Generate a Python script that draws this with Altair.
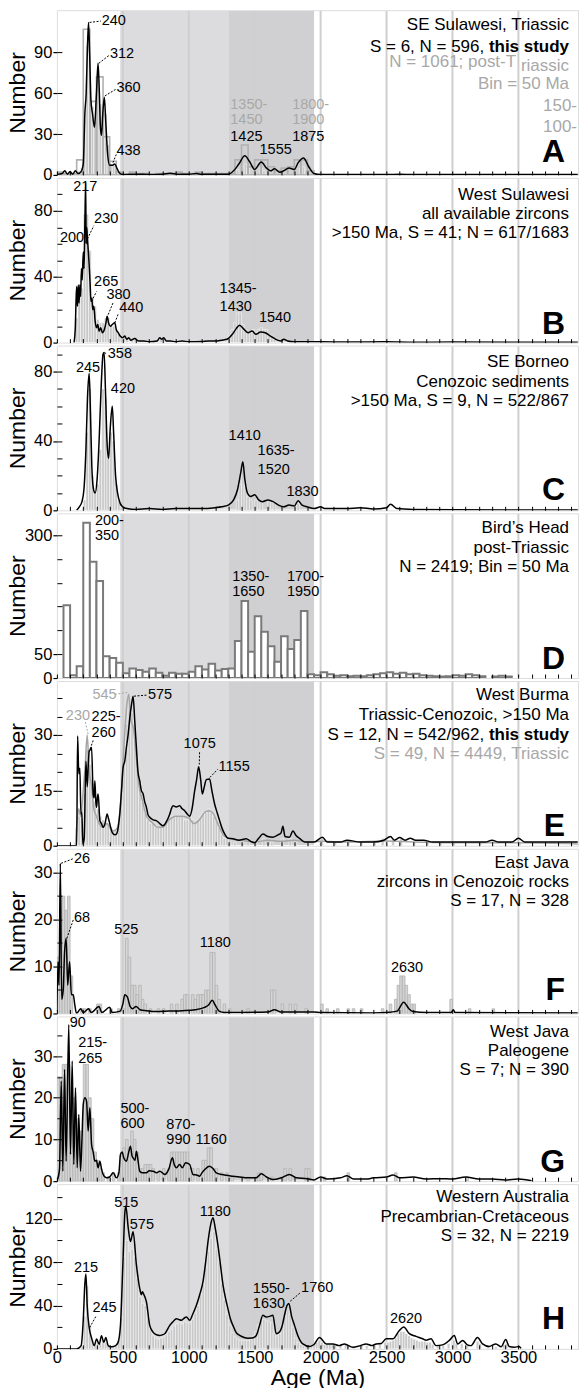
import altair as alt
import pandas as pd

FONT = "Liberation Sans"
W, H = 522, 165
XMAX = 3952

# ---------------- shared guides ----------------
shade_start = [480, 1300]
shade_end = [1300, 1950]
shade_fill = ["#dcdcde", "#d0d0d2"]
grid_ages = [500, 1000, 1500, 2000, 2500, 3000, 3500]
x_label_ages = [0, 500, 1000, 1500, 2000, 2500, 3000, 3500]
x_minor_ages = [0, 100, 200, 300, 400, 500, 600, 700, 800, 900, 1000, 1100, 1200, 1300,
                1400, 1500, 1600, 1700, 1800, 1900, 2000, 2100, 2200, 2300, 2400, 2500,
                2600, 2700, 2800, 2900, 3000, 3100, 3200, 3300, 3400, 3500, 3600, 3700,
                3800, 3900]

# ---------------- panel A : SE Sulawesi ----------------
A_line = [(0, 0.5), (40, 1), (60, 3), (80, 0.5), (100, 2.5), (120, 0.5), (140, 3), (160, 1),
          (180, 2), (200, 8), (212, 45), (222, 60), (232, 95), (240, 112), (248, 90),
          (258, 55), (270, 45), (285, 35), (300, 60), (312, 82), (322, 60), (330, 35),
          (338, 29), (348, 45), (360, 57), (370, 40), (385, 15), (400, 7), (420, 7),
          (438, 8), (455, 5), (470, 2), (490, 0.5), (520, 0.3), (600, 0.5), (700, 0.3),
          (800, 0.5), (860, 1.2), (920, 0.4), (1000, 0.5), (1060, 1), (1100, 0.4),
          (1200, 0.5), (1300, 0.5), (1340, 3), (1380, 8), (1425, 14), (1460, 10),
          (1500, 4), (1550, 9.5), (1590, 5), (1620, 3), (1650, 4.5), (1690, 2), (1720, 3),
          (1760, 5), (1800, 4), (1830, 9), (1870, 12.5), (1910, 6), (1950, 1), (2000, 0.2),
          (2500, 0.2), (2600, 0.5), (2700, 0.2), (3000, 0.3), (3950, 0.2)]
A_hist = [(160, 3), (180, 5), (200, 40), (220, 95), (240, 72), (260, 50), (280, 42),
          (300, 70), (320, 52), (340, 40), (360, 45), (380, 22), (400, 8), (420, 7),
          (440, 5), (460, 2), (1360, 4), (1400, 6), (1420, 8), (1440, 5), (1540, 5),
          (1560, 3), (1840, 5), (1860, 6), (1880, 4)]
A_post = [(0, 2), (50, 1), (100, 1), (150, 11), (200, 107), (250, 54), (300, 72), (350, 28),
          (400, 10), (450, 2), (550, 2), (600, 1), (650, 1), (750, 1), (800, 1), (850, 1),
          (900, 2), (950, 1), (1000, 1), (1050, 2), (1100, 1), (1150, 1), (1200, 1),
          (1250, 1), (1300, 1), (1350, 11), (1400, 22), (1450, 6), (1500, 11), (1550, 11),
          (1600, 6), (1650, 3), (1700, 5), (1750, 6), (1800, 11), (1850, 11), (1900, 3)]
A_labels = [("240", 340, 113, "k"), ("312", 402, 88.7, "k"), ("360", 452, 63.6, "k"),
            ("438", 452, 17.6, "k"), ("1350-", 1315, 51, "g"), ("1450", 1315, 40, "g"),
            ("1425", 1315, 27.8, "k"), ("1555", 1537, 18, "k"), ("1800-", 1784, 51, "g"),
            ("1900", 1784, 40, "g"), ("1875", 1784, 27.8, "k")]
A_leaders = [(248, 112, 333, 113, "k"), (318, 82, 398, 88, "k"), (364, 58, 448, 63, "k"),
             (425, 9, 450, 15, "k")]

# ---------------- panel B : West Sulawesi ----------------
B_line = [(130, 0), (140, 10), (145, 25), (150, 34), (156, 22), (162, 35), (168, 24),
          (174, 35), (180, 28), (186, 45), (192, 38), (200, 55), (206, 45), (212, 72),
          (218, 97), (222, 60), (226, 70), (230, 65), (236, 58), (244, 48), (252, 36),
          (258, 25), (265, 27), (272, 20), (280, 22), (290, 13), (300, 9), (310, 11),
          (320, 7), (332, 9), (345, 6), (360, 8), (372, 12), (381, 16), (392, 12), (406, 10),
          (420, 11), (439, 12), (450, 8), (465, 6), (480, 4), (500, 3), (515, 4), (530, 2),
          (545, 3), (560, 1.5), (590, 2.5), (620, 1), (660, 1), (700, 0.5), (760, 1),
          (780, 3), (795, 2), (810, 3), (830, 1), (860, 1), (900, 0.5), (950, 1),
          (1000, 0.5), (1050, 0.5), (1100, 0.6), (1150, 1), (1200, 1), (1250, 1.5),
          (1290, 2), (1330, 5), (1360, 8.5), (1385, 10.5), (1420, 8), (1450, 6), (1480, 7),
          (1510, 5), (1545, 6.5), (1580, 6), (1620, 4), (1660, 2), (1700, 1), (1720, 2),
          (1750, 1), (1800, 0.5), (1900, 0.5), (2000, 0.5), (2200, 0.3), (2500, 0.5),
          (2700, 0.2), (3000, 0.3), (3950, 0.2)]
B_hist = [(140, 15), (160, 33), (180, 33), (200, 78), (220, 78), (240, 56), (260, 28),
          (280, 22), (300, 14), (320, 12), (340, 12), (360, 15), (380, 15), (400, 11),
          (420, 10), (440, 8), (460, 5), (480, 4), (500, 3), (520, 3), (560, 2), (600, 2),
          (780, 3), (1300, 4), (1320, 8), (1340, 12), (1360, 18), (1380, 18), (1400, 11),
          (1420, 8), (1440, 6), (1460, 6), (1480, 8), (1500, 6), (1520, 8), (1540, 9),
          (1560, 8), (1580, 8), (1600, 5), (1620, 4), (1640, 2), (1700, 2)]
B_labels = [("217", 124, 94.4, "k"), ("200", 23, 63.8, "k"), ("230", 282, 75, "k"),
            ("265", 282, 36.7, "k"), ("380", 376, 28.9, "k"), ("440", 472, 21.2, "k"),
            ("1345-", 1234, 32.3, "k"), ("1430", 1234, 21.7, "k"), ("1540", 1532, 14.8, "k")]
B_leaders = [(232, 63, 280, 71, "k"), (263, 25, 300, 31, "k"), (389, 17, 425, 24, "k"),
             (439, 12, 468, 18, "k")]

# ---------------- panel C : SE Borneo ----------------
C_line = [(150, 0), (170, 2), (190, 5), (205, 12), (220, 35), (232, 65), (245, 79),
          (255, 55), (265, 25), (278, 12), (290, 10), (305, 18), (320, 40), (335, 70),
          (350, 90), (358, 91), (368, 70), (380, 40), (392, 30), (405, 48), (420, 60),
          (430, 45), (445, 20), (460, 10), (480, 4), (500, 2), (530, 1), (600, 0.5),
          (700, 1), (800, 0.5), (900, 1), (1000, 1), (1100, 1), (1200, 1.5), (1250, 2),
          (1300, 3), (1340, 6), (1370, 12), (1395, 22), (1410, 28), (1425, 18), (1445, 10),
          (1470, 8), (1500, 9), (1530, 6), (1560, 5), (1600, 6), (1640, 5), (1680, 3),
          (1720, 2), (1760, 3), (1800, 2.5), (1830, 5.5), (1860, 3), (1900, 2), (1950, 1),
          (2000, 2), (2030, 1), (2200, 1), (2300, 1.5), (2400, 0.8), (2500, 1.5),
          (2530, 3.5), (2580, 1), (2700, 0.5), (3000, 0.3), (3950, 0.2)]
C_hist = [(200, 6), (220, 45), (240, 70), (260, 20), (280, 10), (300, 15), (320, 35),
          (340, 70), (360, 65), (380, 35), (400, 45), (420, 40), (440, 15), (460, 6),
          (480, 2), (1360, 6), (1380, 15), (1400, 24), (1420, 14), (1440, 8), (1460, 6),
          (1500, 6), (1540, 5), (1600, 5), (1640, 5), (1800, 3), (1820, 4)]
C_labels = [("245", 144, 82, "k"), ("358", 386, 90, "k"), ("420", 409, 70, "k"),
            ("1410", 1302, 43, "k"), ("1635-", 1522, 34, "k"), ("1520", 1522, 23.5, "k"),
            ("1830", 1741, 10.5, "k")]
C_leaders = [(360, 91, 382, 90, "k")]

# ---------------- panel D : Bird's Head (50 Ma bins) ----------------
D_hist = [(50, 153), (100, 6), (150, 25), (200, 326), (250, 244), (300, 204), (350, 46),
          (400, 42), (450, 32), (500, 10), (550, 20), (600, 17), (650, 13), (700, 20),
          (750, 11), (800, 5), (850, 11), (900, 9), (950, 9), (1000, 13), (1050, 25),
          (1100, 18), (1150, 30), (1200, 16), (1250, 19), (1300, 20), (1350, 78),
          (1400, 162), (1450, 55), (1500, 130), (1550, 97), (1600, 67), (1650, 34),
          (1700, 88), (1750, 61), (1800, 80), (1850, 141), (1900, 8), (1950, 6), (2000, 12),
          (2050, 8), (2100, 5), (2150, 6), (2200, 4), (2250, 5), (2300, 4), (2350, 6),
          (2400, 8), (2450, 10), (2500, 12), (2550, 9), (2600, 11), (2650, 8), (2700, 9),
          (2750, 6), (2800, 5), (2850, 4), (2900, 3), (2950, 4), (3000, 6), (3050, 5),
          (3100, 8), (3150, 6), (3200, 4), (3300, 3), (3350, 5), (3400, 3)]
D_labels = [("200-", 288, 329, "k"), ("350", 288, 298, "k"), ("1350-", 1330, 212, "k"),
            ("1650", 1330, 180, "k"), ("1700-", 1745, 212, "k"), ("1950", 1745, 180, "k")]

# ---------------- panel E : West Burma ----------------
E_line = [(0, 0), (150, 0), (157, 29.7), (166, 19.5), (174, 21), (182, 8.6), (189, 9),
          (197, 0.5), (207, 2), (220, 22.9), (230, 16), (238, 22), (245, 25.6), (253, 26),
          (263, 26.6), (275, 14), (282, 13), (288, 17.6), (295, 12), (301, 10.4), (307, 13),
          (313, 14), (326, 6.8), (338, 6), (351, 5), (365, 6), (381, 8.6), (390, 7.5),
          (401, 6), (415, 4), (427, 3.2), (440, 3), (452, 3.2), (465, 5), (477, 8.6),
          (490, 15), (502, 21.2), (515, 23), (527, 26.6), (540, 30), (553, 34.7), (565, 38),
          (578, 40.5), (590, 34), (603, 26.6), (615, 20), (628, 17.6), (640, 15), (654, 14),
          (665, 12), (679, 10.4), (690, 8.5), (704, 7.7), (730, 7), (754, 6.8), (780, 6),
          (805, 5.4), (830, 6.5), (856, 8.6), (868, 10), (881, 10.8), (905, 10.5),
          (931, 10.8), (950, 10), (969, 9.5), (990, 8.5), (1007, 8), (1025, 10),
          (1045, 14.9), (1060, 18), (1075, 21.4), (1090, 18), (1103, 14), (1118, 16),
          (1133, 17.9), (1158, 18.1), (1175, 15), (1196, 11.3), (1215, 9), (1234, 6.8),
          (1255, 4.5), (1272, 3.2), (1300, 2), (1335, 1.9), (1380, 1.5), (1436, 1.9),
          (1470, 1.2), (1499, 0.8), (1530, 2), (1562, 3.2), (1600, 2.5), (1638, 2.3),
          (1680, 3), (1700, 3.5), (1714, 5.3), (1730, 2.5), (1764, 2.3), (1790, 4),
          (1815, 2.7), (1840, 2), (1880, 1), (1950, 1), (2014, 2.3), (2050, 1), (2150, 1),
          (2200, 1.5), (2300, 1), (2400, 1), (2480, 1.5), (2530, 2.5), (2560, 1.5),
          (2600, 2.2), (2640, 1.5), (2680, 2), (2720, 1.5), (2780, 1.5), (2850, 1),
          (2950, 1), (3050, 1), (3150, 1), (3250, 1), (3300, 1.5), (3350, 1), (3450, 1),
          (3500, 2), (3550, 1), (3950, 1)]
E_grey = [(140, 0), (150, 5), (165, 10), (180, 8), (200, 15), (215, 22), (230, 30), (245, 20),
          (260, 17), (280, 10), (300, 8), (320, 6), (350, 5), (380, 6), (400, 5), (430, 4),
          (460, 5), (490, 15), (510, 28), (530, 38), (545, 41), (560, 34), (580, 32),
          (600, 25), (620, 17), (650, 12), (680, 8), (700, 7), (730, 6), (760, 5), (800, 5),
          (850, 7), (900, 8), (950, 8), (1000, 7.5), (1040, 6), (1080, 7), (1120, 9),
          (1150, 9.5), (1180, 9), (1220, 6), (1260, 3), (1300, 2), (1400, 1.5), (1500, 1),
          (1600, 1.5), (1700, 1.2), (1800, 1.5), (1900, 1), (2000, 1.2), (2200, 1),
          (2500, 1.3), (2700, 1), (3000, 0.8), (3500, 0.8), (3950, 0.5)]
E_hist = [(140, 5), (160, 8), (180, 10), (200, 14), (220, 26), (240, 22), (260, 17),
          (280, 12), (300, 10), (320, 8), (340, 7), (360, 6), (380, 6), (400, 5), (420, 4),
          (440, 4), (460, 6), (480, 12), (500, 22), (520, 33), (540, 40), (560, 36),
          (580, 32), (600, 24), (620, 17), (640, 12), (660, 9), (680, 7), (700, 6), (720, 6),
          (740, 5), (760, 5), (780, 5), (800, 6), (820, 7), (840, 7), (860, 8), (880, 8),
          (900, 8), (920, 8), (940, 8), (960, 7), (980, 7), (1000, 8), (1020, 7), (1040, 6),
          (1060, 7), (1080, 8), (1100, 9), (1120, 9), (1140, 10), (1160, 9), (1180, 8),
          (1200, 7), (1220, 5), (1240, 3), (1260, 2), (1280, 2), (1300, 2), (1340, 1),
          (1400, 1), (1440, 2), (1500, 1), (1560, 2), (1620, 1), (1700, 2), (1760, 2),
          (1800, 1), (1900, 1), (2000, 2), (2100, 1), (2200, 1), (2300, 1), (2400, 1),
          (2460, 2), (2540, 2), (2600, 2), (2700, 1), (2800, 1), (2900, 1), (3000, 1),
          (3200, 1), (3500, 1)]
E_labels = [("230", 68, 35.1, "g"), ("225-", 263, 34.9, "k"), ("260", 263, 30.6, "k"),
            ("545", 270, 40.8, "g"), ("575", 691, 40.8, "k"), ("1075", 961, 27.5, "k"),
            ("1155", 1226, 21.4, "k")]
E_leaders = [(216, 33.5, 238, 30, "g"), (275, 28.5, 250, 26, "k"), (440, 41, 535, 41.5, "g"),
             (585, 40.5, 685, 40.8, "k"), (1082, 25.3, 1080, 22, "k"),
             (1160, 18.5, 1220, 20.7, "k")]

# ---------------- panel F : East Java ----------------
F_line = [(0, 0.4), (8, 11), (16, 6), (26, 32), (36, 3), (48, 5), (58, 13), (70, 16),
          (82, 6), (96, 11), (110, 4), (124, 4), (135, 2), (149, 0), (180, 1), (200, 0.2),
          (240, 1), (260, 0.2), (320, 1.5), (340, 0.2), (400, 1.3), (420, 0.2), (480, 0.5),
          (500, 2), (515, 4), (535, 3.5), (555, 1.5), (575, 1), (600, 1.5), (630, 0.8),
          (680, 0.6), (750, 0.4), (850, 0.5), (950, 0.6), (1050, 0.8), (1120, 1.3),
          (1150, 1.8), (1178, 2.8), (1200, 1.8), (1230, 0.5), (1270, 0.2), (1300, 0.2),
          (1600, 0.3), (1650, 0.8), (1700, 0.3), (1950, 0.3), (2000, 0.2), (2400, 0.1),
          (2500, 0.2), (2580, 0.5), (2630, 2.4), (2670, 1), (2700, 0.4), (2800, 0.2),
          (2990, 0.2), (3006, 0.8), (3020, 0.2), (3950, 0.1)]
F_hist = [(0, 12), (20, 25), (40, 25), (60, 22), (80, 25), (100, 8), (180, 1), (200, 1),
          (240, 1), (300, 2), (320, 2), (400, 1), (460, 1), (500, 1), (520, 16), (540, 12),
          (560, 6), (580, 6), (600, 4), (620, 6), (640, 3), (660, 2), (700, 1), (760, 1),
          (800, 1), (860, 2), (900, 2), (940, 3), (960, 4), (980, 4), (1020, 4), (1040, 3),
          (1060, 4), (1080, 4), (1100, 4), (1120, 5), (1140, 5), (1160, 13), (1180, 13),
          (1200, 6), (1220, 3), (1260, 2), (1300, 1), (1440, 1), (1620, 5), (1640, 5),
          (1700, 2), (1760, 2), (1800, 2), (1880, 1), (2000, 2), (2040, 1), (2120, 1),
          (2200, 1), (2240, 1), (2300, 1), (2460, 1), (2520, 2), (2560, 3), (2580, 6),
          (2600, 8), (2620, 8), (2640, 6), (2660, 4), (2680, 2), (2700, 2), (2980, 3),
          (3120, 1), (3300, 1)]
F_labels = [("26", 129, 32.9, "k"), ("68", 129, 20.3, "k"), ("525", 434, 17.8, "k"),
            ("1180", 1083, 15, "k"), ("2630", 2533, 9.6, "k")]
F_leaders = [(32, 32, 125, 33, "k"), (75, 16, 125, 20, "k")]

# ---------------- panel G : West Java ----------------
G_line = [(0, 0), (10, 1), (20, 3), (33, 24), (45, 2.4), (58, 26.8), (70, 4.8), (90, 37.5),
          (103, 6.4), (116, 28.8), (128, 4), (141, 22.4), (154, 3.2), (166, 16), (179, 2.4),
          (190, 10), (200, 18.4), (212, 20), (225, 19.2), (237, 12), (250, 17.6), (263, 8.8),
          (275, 7), (288, 4.8), (300, 5), (313, 3.2), (326, 4.8), (338, 3), (351, 1.6),
          (376, 0.8), (400, 1), (427, 2), (452, 0.8), (470, 2), (482, 6.4), (495, 7),
          (507, 5.6), (527, 4.8), (545, 7), (558, 8.4), (570, 6), (578, 5.6), (592, 5),
          (603, 7.2), (615, 5), (628, 2.4), (650, 2), (679, 2), (700, 2.5), (729, 2.4),
          (755, 2), (780, 2.4), (818, 1.6), (850, 3), (876, 5.6), (890, 4), (906, 3.2),
          (931, 4), (951, 3.2), (976, 4.4), (1007, 4), (1032, 1.6), (1060, 1.5), (1083, 1.2),
          (1100, 2), (1121, 2.8), (1158, 3.6), (1185, 3), (1209, 2), (1250, 1.6),
          (1285, 1.4), (1335, 1.2), (1385, 1), (1450, 0.8), (1512, 0.8), (1550, 1.8),
          (1590, 1), (1638, 0.4), (1700, 0.8), (1764, 1.6), (1815, 0.8), (1900, 0.6),
          (1950, 0.3), (2000, 1), (2050, 0.5), (2150, 0.8), (2200, 1.3), (2250, 0.5),
          (2350, 0.5), (2400, 0.8), (2500, 1), (2550, 1.5), (2600, 0.8), (2700, 1),
          (2800, 0.5), (2900, 0.6), (3000, 0.5), (3100, 1), (3200, 0.5), (3300, 0.5),
          (3400, 0.3), (3500, 0.5), (3600, 0.1)]
G_hist = [(0, 25), (20, 25), (40, 28), (60, 28), (80, 28), (100, 20), (120, 20), (140, 15),
          (160, 12), (180, 12), (200, 28), (220, 28), (240, 20), (260, 15), (280, 7),
          (300, 5), (320, 3), (340, 2), (380, 1), (420, 2), (460, 2), (480, 6), (500, 8),
          (520, 10), (540, 8), (560, 12), (580, 10), (600, 7), (620, 3), (640, 3), (660, 4),
          (680, 4), (700, 4), (720, 3), (760, 2), (800, 3), (840, 3), (860, 7), (880, 7),
          (900, 7), (920, 7), (940, 7), (960, 7), (980, 7), (1000, 3), (1020, 3), (1060, 3),
          (1100, 5), (1120, 5), (1140, 8), (1160, 8), (1180, 3), (1200, 3), (1240, 2),
          (1280, 2), (1320, 1), (1440, 1), (1500, 1), (1520, 2), (1540, 2), (1620, 1),
          (1720, 3), (1760, 3), (1880, 3), (1900, 3), (2020, 1), (2200, 2), (2560, 2),
          (3100, 1)]
G_labels = [("90", 98, 38, "k"), ("215-", 161, 33.2, "k"), ("265", 161, 29.4, "k"),
            ("500-", 482, 17.4, "k"), ("600", 482, 13.6, "k"), ("870-", 830, 13.4, "k"),
            ("990", 830, 9.8, "k"), ("1160", 1052, 9.8, "k")]

# ---------------- panel H : Western Australia ----------------
H_line = [(0, 0), (150, 0), (184, 3), (200, 27), (212, 60), (220, 69), (230, 39.5),
          (245, 19.5), (263, 10), (283, 3), (301, 9), (321, 4.3), (338, 12), (356, 6),
          (371, 10.5), (389, 3), (410, 2), (427, 2.2), (445, 3), (464, 6), (482, 21.7),
          (502, 83.7), (515, 125), (523, 131.8), (541, 111.6), (558, 99), (578, 108),
          (603, 77.5), (628, 55.8), (640, 50), (648, 52.7), (660, 50), (679, 43.4),
          (704, 21.7), (729, 15.5), (755, 13), (780, 12.4), (800, 13), (818, 14),
          (856, 21.7), (880, 25), (906, 27.9), (925, 27), (944, 26.4), (962, 28),
          (982, 29.5), (1007, 26.4), (1030, 32), (1058, 40.3), (1083, 50), (1108, 62),
          (1128, 80), (1146, 99), (1165, 114), (1184, 120.9), (1200, 112), (1222, 95),
          (1240, 78), (1260, 58.9), (1280, 46), (1297, 37.2), (1315, 28), (1335, 21.7),
          (1360, 15), (1386, 12.4), (1420, 10.5), (1449, 9.9), (1480, 10), (1512, 12.4),
          (1537, 21.7), (1562, 31), (1587, 29.5), (1613, 30), (1638, 31), (1663, 14),
          (1688, 15.5), (1710, 22), (1726, 31), (1745, 40), (1759, 41.9), (1780, 30),
          (1802, 21.7), (1827, 12.4), (1865, 4.6), (1916, 2.2), (1950, 4), (1992, 10.5),
          (2042, 4.6), (2093, 4.6), (2140, 3), (2181, 4.6), (2244, 1.5), (2300, 3),
          (2345, 4.6), (2390, 3), (2421, 4.6), (2460, 5), (2497, 9.3), (2547, 9.3),
          (2597, 17), (2630, 20.2), (2673, 14), (2724, 11.5), (2774, 9.3), (2800, 8),
          (2837, 9.3), (2875, 3), (2925, 3.7), (2976, 7.8), (3014, 12.4), (3039, 4.6),
          (3077, 7.8), (3110, 4), (3140, 3), (3190, 10.5), (3228, 4.6), (3278, 2.2),
          (3329, 4.6), (3370, 2), (3404, 8.7), (3430, 2.2), (3470, 1.5), (3505, 2.2),
          (3520, 0.5)]
H_hist = [(180, 2), (200, 30), (220, 58), (240, 22), (260, 8), (280, 4), (300, 6), (320, 5),
          (340, 8), (360, 6), (380, 3), (400, 2), (420, 2), (440, 3), (460, 8), (480, 30),
          (500, 85), (520, 100), (540, 90), (560, 92), (580, 85), (600, 65), (620, 48),
          (640, 42), (660, 40), (680, 30), (700, 18), (720, 12), (740, 10), (760, 9),
          (780, 10), (800, 11), (820, 13), (840, 16), (860, 18), (880, 21), (900, 23),
          (920, 24), (940, 23), (960, 25), (980, 24), (1000, 24), (1020, 27), (1040, 33),
          (1060, 40), (1080, 50), (1100, 60), (1120, 75), (1140, 90), (1160, 102),
          (1180, 108), (1200, 92), (1220, 80), (1240, 60), (1260, 45), (1280, 32),
          (1300, 22), (1320, 15), (1340, 11), (1360, 9), (1380, 8), (1400, 8), (1420, 8),
          (1440, 8), (1460, 9), (1480, 12), (1500, 16), (1520, 22), (1540, 26), (1560, 27),
          (1580, 26), (1600, 25), (1620, 24), (1640, 14), (1660, 12), (1680, 14), (1700, 22),
          (1720, 30), (1740, 36), (1760, 32), (1780, 20), (1800, 10), (1820, 6), (1840, 4),
          (1860, 3), (1880, 3), (1900, 2), (1920, 3), (1940, 4), (1960, 6), (1980, 8),
          (2000, 6), (2020, 4), (2040, 4), (2060, 4), (2080, 4), (2100, 3), (2140, 3),
          (2180, 4), (2200, 3), (2240, 2), (2300, 3), (2340, 3), (2400, 3), (2440, 4),
          (2480, 6), (2500, 6), (2520, 7), (2540, 8), (2560, 10), (2580, 14), (2600, 16),
          (2620, 16), (2640, 14), (2660, 12), (2680, 10), (2700, 9), (2720, 8), (2740, 7),
          (2760, 7), (2780, 7), (2800, 6), (2820, 6), (2840, 4), (2880, 3), (2920, 3),
          (2960, 5), (3000, 8), (3020, 5), (3060, 5), (3100, 3), (3180, 7), (3200, 5),
          (3260, 2), (3320, 2), (3380, 4), (3400, 5), (3440, 1)]
H_labels = [("215", 129, 74.4, "k"), ("245", 270, 38, "k"), ("515", 434, 135, "k"),
            ("575", 553, 114, "k"), ("1180", 1083, 125.9, "k"), ("1550-", 1486, 55.2, "k"),
            ("1630", 1486, 41.2, "k"), ("1760", 1852, 56.1, "k"), ("2620", 2526, 27.9, "k")]
H_leaders = [(249, 19.7, 298, 30.5, "k"), (1770, 44, 1848, 52, "k")]

# ---------------- panel titles ----------------
A_title = [("SE Sulawesi, Triassic", 513, 15, "k", "normal"),
           ("S = 6, N = 596,", 428, 37, "k", "normal"),
           ("this study", 513, 37, "k", "bold"),
           ("N = 1061; post-T", 460, 52, "g", "normal"),
           ("riassic", 513, 56, "g", "normal"),
           ("Bin = 50 Ma", 513, 74, "g", "normal"),
           ("150-", 521, 96, "g", "normal"),
           ("100-", 521, 117, "g", "normal")]
B_title = [("West Sulawesi", 513, 17, "k", "normal"),
           ("all available zircons", 513, 36, "k", "normal"),
           (">150 Ma, S = 41; N = 617/1683", 513, 55.5, "k", "normal")]
C_title = [("SE Borneo", 513, 16.7, "k", "normal"),
           ("Cenozoic sediments", 513, 36, "k", "normal"),
           (">150 Ma, S = 9, N = 522/867", 513, 55.3, "k", "normal")]
D_title = [("Bird\u2019s Head", 513, 15, "k", "normal"),
           ("post-Triassic", 513, 34.5, "k", "normal"),
           ("N = 2419; Bin = 50 Ma", 513, 54, "k", "normal")]
E_title = [("West Burma", 513, 14.5, "k", "normal"),
           ("Triassic-Cenozoic, >150 Ma", 513, 34, "k", "normal"),
           ("S = 12, N = 542/962,", 428, 54, "k", "normal"),
           ("this study", 513, 54, "k", "bold"),
           ("S = 49, N = 4449, Triassic", 513, 73, "g", "normal")]
F_title = [("East  Java", 513, 14.7, "k", "normal"),
           ("zircons in Cenozoic rocks", 513, 33.7, "k", "normal"),
           ("S = 17, N = 328", 513, 52.7, "k", "normal")]
G_title = [("West Java", 513, 16, "k", "normal"),
           ("Paleogene", 513, 35, "k", "normal"),
           ("S = 7; N = 390", 513, 54, "k", "normal")]
H_title = [("Western Australia", 513, 13, "k", "normal"),
           ("Precambrian-Cretaceous", 513, 32.5, "k", "normal"),
           ("S = 32, N = 2219", 513, 52, "k", "normal")]

COL = {"k": "#000000", "g": "#a8a8a8"}
FILL_BAR = dict(fill="#c8c8c8", stroke="#ffffff", strokeWidth=0.5)
OUT_BAR = dict(fill="#d4d4d4", stroke="#b3b3b3", strokeWidth=0.8)

PANELS = [
    dict(letter="A", lb=152, ymax=121, yt=[0, 30, 60, 90], ym=[30, 60, 90], line=A_line,
         hist=A_hist, bw=20, bar=FILL_BAR, post=A_post, labels=A_labels, leaders=A_leaders,
         title=A_title),
    dict(letter="B", lb=156, ymax=100, yt=[0, 40, 80], ym=[10, 20, 30, 40, 50, 60, 70, 80, 90],
         line=B_line, hist=B_hist, bw=20, bar=FILL_BAR, labels=B_labels, leaders=B_leaders,
         title=B_title),
    dict(letter="C", lb=155, ymax=95, yt=[0, 40, 80], ym=[10, 20, 30, 40, 50, 60, 70, 80, 90],
         line=C_line, hist=C_hist, bw=20, bar=FILL_BAR, labels=C_labels, leaders=C_leaders,
         title=C_title),
    dict(letter="D", lb=156, ymax=346, yt=[0, 50, 300], ym=[50, 100, 150, 200, 250, 300],
         hist=D_hist, bw=50, bar=dict(fill="#ffffff", stroke="#7a7a7a", strokeWidth=2),
         labels=D_labels, leaders=[], title=D_title),
    dict(letter="E", lb=155, ymax=44.6, yt=[0, 15, 30], ym=[5, 10, 15, 20, 25, 30, 35, 40],
         line=E_line, grey=E_grey, hist=E_hist, bw=20, bar=FILL_BAR, labels=E_labels,
         leaders=E_leaders, title=E_title),
    dict(letter="F", lb=152, ymax=35.1, yt=[0, 10, 20, 30], ym=[5, 10, 15, 20, 25, 30],
         line=F_line, hist=F_hist, bw=20, bar=OUT_BAR, labels=F_labels, leaders=F_leaders,
         title=F_title),
    dict(letter="G", lb=156, ymax=39.5, yt=[0, 10, 20, 30], ym=[5, 10, 15, 20, 25, 30, 35],
         line=G_line, hist=G_hist, bw=20, bar=OUT_BAR, labels=G_labels, leaders=[],
         title=G_title),
    dict(letter="H", lb=145, ymax=152, yt=[0, 40, 80, 120], ym=[20, 40, 60, 80, 100, 120, 140],
         line=H_line, hist=H_hist, bw=20, bar=FILL_BAR, labels=H_labels, leaders=H_leaders,
         title=H_title),
]


def hist_table(lst, bw):
    return pd.DataFrame({"x0": [a for a, _ in lst], "x1": [a + bw for a, _ in lst],
                         "n": [v for _, v in lst]})


def px_text(text, x, y, color="#000000", weight="normal", size=17, align="right",
            baseline="middle"):
    return alt.Chart(pd.DataFrame({"t": [text]})).mark_text(
        align=align, baseline=baseline, fontSize=size, font=FONT, color=color,
        fontWeight=weight).encode(x=alt.value(x), y=alt.value(y), text="t:N")


def build(cfg, last):
    xs = alt.Scale(domain=[0, XMAX], nice=False, zero=False)
    ys = alt.Scale(domain=[0, cfg["ymax"]], nice=False, zero=False)

    shade_df = pd.DataFrame({"s": shade_start, "e": shade_end, "c": shade_fill})
    grid_df = pd.DataFrame({"a": grid_ages})

    layers = []
    layers.append(alt.Chart(shade_df).mark_rect().encode(
        x=alt.X("s:Q", scale=xs, axis=None), x2="e:Q",
        y=alt.value(0.75), y2=alt.value(H - 0.75), color=alt.Color("c:N", scale=None)))
    layers.append(alt.Chart(grid_df).mark_rule(color="#cfcfcf", strokeWidth=2).encode(
        x=alt.X("a:Q", scale=xs, axis=None), y=alt.value(0.75), y2=alt.value(H - 0.75)))

    if last:
        x_axis = alt.Axis(orient="bottom", values=x_label_ages, title="Age (Ma)", format="d",
                          labelFontSize=16.5, titleFontSize=23, tickSize=0, labelPadding=1,
                          titlePadding=0, domain=False, grid=False, labelFlush=False,
                          labelColor="#000000", titleColor="#000000",
                          titleFontWeight="normal", labelFont=FONT, titleFont=FONT, zindex=1)
    else:
        x_axis = None
    y_axis = alt.Axis(orient="left", values=cfg["yt"], title="Number", labelFontSize=16.5,
                      titleFontSize=23, tickSize=4, tickWidth=1.2, tickColor="#000000",
                      labelPadding=1, minExtent=27, maxExtent=27, titlePadding=0,
                      domain=False, grid=False, labelColor="#000000", titleColor="#000000",
                      titleFontWeight="normal", labelFont=FONT, titleFont=FONT, zindex=1)

    hd = hist_table(cfg["hist"], cfg["bw"])
    layers.append(alt.Chart(hd).mark_bar(clip=True, **cfg["bar"]).encode(
        x=alt.X("x0:Q", scale=xs, axis=x_axis), x2="x1:Q",
        y=alt.Y("n:Q", scale=ys, axis=y_axis, stack=None), y2=alt.datum(0)))

    if "post" in cfg:
        pdf = hist_table(cfg["post"], 50)
        layers.append(alt.Chart(pdf).mark_bar(clip=True, fillOpacity=0, stroke="#b0b0b0",
                                              strokeWidth=1.6).encode(
            x=alt.X("x0:Q", scale=xs, axis=None), x2="x1:Q",
            y=alt.Y("n:Q", scale=ys, axis=None, stack=None), y2=alt.datum(0)))

    if "grey" in cfg:
        gdf = pd.DataFrame(cfg["grey"], columns=["age", "n"])
        layers.append(alt.Chart(gdf).mark_line(color="#a5a5a5", strokeWidth=1.5,
                                               interpolate="monotone", clip=True).encode(
            x=alt.X("age:Q", scale=xs, axis=None), y=alt.Y("n:Q", scale=ys, axis=None)))

    if "line" in cfg:
        ldf = pd.DataFrame(cfg["line"], columns=["age", "n"])
        layers.append(alt.Chart(ldf).mark_line(color="#000000", strokeWidth=1.5,
                                               interpolate="monotone", clip=True).encode(
            x=alt.X("age:Q", scale=xs, axis=None), y=alt.Y("n:Q", scale=ys, axis=None)))

    if cfg["leaders"]:
        lead = pd.DataFrame(cfg["leaders"], columns=["a1", "n1", "a2", "n2", "c"])
        lead["col"] = [COL[c] for c in lead["c"]]
        layers.append(alt.Chart(lead).mark_rule(strokeDash=[2, 1.5], strokeWidth=1).encode(
            x=alt.X("a1:Q", scale=xs, axis=None), x2="a2:Q",
            y=alt.Y("n1:Q", scale=ys, axis=None), y2="n2:Q",
            color=alt.Color("col:N", scale=None)))

    lab = pd.DataFrame(cfg["labels"], columns=["t", "age", "n", "c"])
    lab["col"] = [COL[c] for c in lab["c"]]
    layers.append(alt.Chart(lab).mark_text(align="left", baseline="middle", fontSize=14.5,
                                           font=FONT).encode(
        x=alt.X("age:Q", scale=xs, axis=None), y=alt.Y("n:Q", scale=ys, axis=None),
        text="t:N", color=alt.Color("col:N", scale=None)))

    for (t, x, y, c, wgt) in cfg["title"]:
        layers.append(px_text(t, x, y, color=COL[c], weight=wgt))

    layers.append(px_text(cfg["letter"], 509, cfg["lb"], weight="bold", size=32,
                          baseline="alphabetic"))

    # inward minor ticks (bottom edge via a top axis, left edge via a right axis)
    top_in = alt.Axis(orient="top", offset=-H, values=x_minor_ages, labels=False, tickSize=4,
                      tickColor="#000000", tickWidth=1, domain=False, grid=False, title=None,
                      zindex=2)
    right_in = alt.Axis(orient="right", offset=-W, values=cfg["ym"], labels=False, tickSize=5,
                        tickColor="#000000", tickWidth=1, domain=False, grid=False, title=None,
                        zindex=2)
    layers.append(alt.Chart(hd).mark_point(opacity=0, size=1).encode(
        x=alt.X("x0:Q", scale=xs, axis=top_in), y=alt.Y("n:Q", scale=ys, axis=right_in)))

    return alt.layer(*layers).properties(width=W, height=H).resolve_axis(
        x="independent", y="independent")


charts = [build(cfg, i == len(PANELS) - 1) for i, cfg in enumerate(PANELS)]

chart = alt.vconcat(*charts, spacing=3, bounds="flush").resolve_scale(
    x="independent", y="independent").properties(
    padding={"left": 6, "top": 8, "right": 2, "bottom": 0}
).configure_view(stroke="#000000", strokeWidth=1.5).configure(font=FONT, background="white")

chart.save("out.html", embed_options={"renderer": "svg", "actions": False})
